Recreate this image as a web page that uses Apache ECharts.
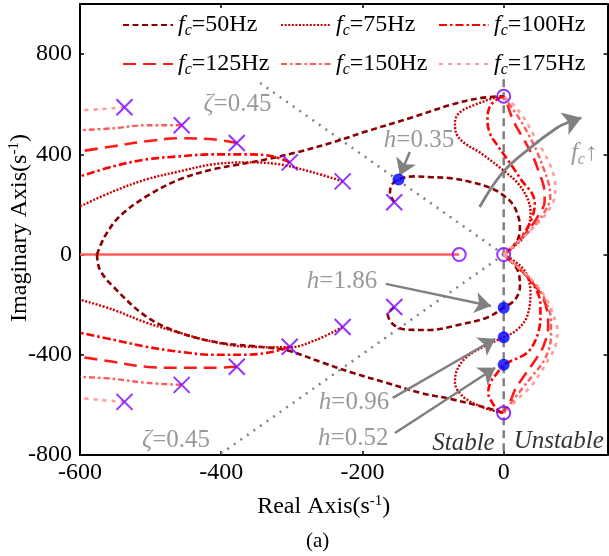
<!DOCTYPE html>
<html>
<head>
<meta charset="utf-8">
<script src="https://cdn.jsdelivr.net/npm/echarts@6/dist/echarts.min.js"></script>
<style>
html,body{margin:0;padding:0;background:#fff;}
#chart{width:609px;height:556px;}
</style>
</head>
<body>
<div id="chart"></div>
<script>
// ---- cutoff frequencies shown in the legend ----
const fcLabels = ['50Hz', '75Hz', '100Hz', '125Hz', '150Hz', '175Hz'];

// ---- open-loop poles (x) and zeros (o), s^-1 ----
const polesRe      = [-155, -228, -303, -378, -456, -537];
const polesImUpper = [209, 292, 368, 445, 516, 588];
const polesImLower = [-209, -289, -368, -448, -520, -588];
const zerosRe = [0, 0, -63, 0];
const zerosIm = [632, 0, 0, -632];

// ---- closed-loop points marked for selected h ----
const markedRe = [-149, 0, 0, 0];
const markedIm = [300, -212, -330, -440];
const markedH  = ['0.35', '1.86', '0.96', '0.52'];

// ---- root-locus branches, [Re, Im] ----
// fc = 50 Hz
const loc50OuterUp = [[-576,0],[-565,72],[-544,152],[-506,232],[-459,300],[-412,340],[-374,360],[-336,380],[-293,408],[-242,448],[-194,492],[-129,548],[-72,600],[-34,624],[0,632]];
const loc50OuterLo = [[-576,0],[-572,-60],[-553,-128],[-506,-248],[-459,-312],[-402,-352],[-346,-368],[-307,-382],[-260,-428],[-214,-472],[-166,-512],[-118,-552],[-76,-576],[-29,-608],[0,-632]];
const loc50InnerUp = [[-155,209],[-161,248],[-158,280],[-149,300],[-128,312],[-104,309],[-76,305],[-47,290],[-19,266],[0,236],[13,200],[21,148],[23,108],[21,68],[13,32],[0,0]];
const loc50InnerLo = [[-155,-209],[-164,-240],[-156,-280],[-137,-300],[-104,-301],[-66,-282],[-24,-252],[0,-212],[16,-180],[23,-128],[21,-72],[12,-32],[0,0]];
// fc = 75 Hz
const loc75LeftUp  = [[-228,292],[-270,328],[-317,360],[-364,368],[-412,360],[-459,332],[-506,300],[-553,252],[-600,192]];
const loc75LeftLo  = [[-228,-289],[-265,-340],[-303,-370],[-364,-368],[-412,-348],[-459,-312],[-506,-272],[-553,-220],[-600,-180]];
const loc75InnerUp = [[0,0],[14,30],[28,70],[36,120],[38,172],[33,228],[19,288],[0,335],[-33,406],[-57,448],[-68,490],[-69,528],[-62,568],[-37,602],[-12,626],[0,632]];
const loc75InnerLo = [[0,0],[16,-28],[31,-70],[38,-152],[33,-248],[19,-300],[0,-330],[-23,-360],[-52,-408],[-66,-460],[-69,-512],[-57,-568],[-33,-606],[-9,-628],[0,-632]];
// fc = 100 Hz
const loc100LeftUp  = [[-303,368],[-327,392],[-364,400],[-412,400],[-459,392],[-506,380],[-553,352],[-600,312]];
const loc100LeftLo  = [[-303,-368],[-327,-388],[-364,-400],[-412,-400],[-459,-388],[-506,-368],[-553,-340],[-600,-312]];
const loc100RightUp = [[0,0],[16,40],[30,90],[40,145],[44,200],[40,245],[27,290],[13,348],[0,400],[-9,436],[-19,480],[-23,532],[-22,572],[-14,610],[0,632]];
const loc100RightLo = [[0,0],[18,-45],[35,-95],[47,-145],[52,-200],[52,-250],[47,-328],[33,-392],[0,-440],[-9,-472],[-19,-512],[-22,-552],[-16,-592],[-8,-620],[0,-632]];
// fc = 125 Hz
const loc125LeftUp  = [[-378,445],[-412,460],[-459,464],[-506,452],[-553,432],[-600,412]];
const loc125LeftLo  = [[-378,-448],[-412,-452],[-459,-452],[-506,-448],[-553,-428],[-600,-408]];
const loc125RightUp = [[0,0],[18,45],[36,100],[50,160],[58,212],[57,268],[50,328],[42,388],[30,452],[14,532],[5,600],[0,632]];
const loc125RightLo = [[0,0],[20,-50],[40,-110],[55,-170],[62,-232],[63,-288],[56,-368],[45,-420],[28,-488],[16,-540],[9,-588],[2,-620],[0,-632]];
// fc = 150 Hz
const loc150LeftUp  = [[-456,516],[-506,516],[-553,504],[-600,496]];
const loc150LeftLo  = [[-456,-520],[-506,-512],[-553,-496],[-600,-488]];
const loc150RightUp = [[0,0],[20,50],[42,110],[58,170],[66,228],[64,280],[56,348],[47,412],[35,480],[21,548],[6,608],[0,632]];
const loc150RightLo = [[0,0],[22,-55],[45,-120],[60,-190],[67,-260],[67,-312],[65,-368],[56,-428],[42,-480],[28,-528],[16,-572],[5,-612],[0,-632]];
// fc = 175 Hz
const loc175LeftUp  = [[-537,588],[-572,580],[-600,576]];
const loc175LeftLo  = [[-537,-588],[-572,-580],[-600,-572]];
const loc175RightUp = [[0,0],[22,55],[45,115],[62,170],[72,228],[73,280],[67,348],[56,412],[42,480],[28,548],[13,600],[0,632]];
const loc175RightLo = [[0,0],[24,-60],[48,-125],[62,-185],[70,-240],[76,-300],[73,-368],[63,-420],[52,-472],[38,-528],[23,-568],[9,-608],[0,-632]];

// common real-axis segment
const realAxisBranch = [[-600,0],[-63,0]];

// damping-ratio guide lines (zeta = 0.45) and stability boundary
const zetaUpper = [[0,0],[-347,689]];
const zetaLower = [[0,0],[-403,-800]];
const boundary  = [[0,700],[0,-800]];

// ---- axis ranges and ticks ----
const xRange = [-600, 147];
const yRange = [-800, 1000];
const xTickStep = 200;
const yTickStep = 400;

const branchesByFc = [
  [loc50OuterUp, loc50OuterLo, loc50InnerUp, loc50InnerLo],
  [loc75LeftUp, loc75LeftLo, loc75InnerUp, loc75InnerLo],
  [loc100LeftUp, loc100LeftLo, loc100RightUp, loc100RightLo],
  [loc125LeftUp, loc125LeftLo, loc125RightUp, loc125RightLo],
  [loc150LeftUp, loc150LeftLo, loc150RightUp, loc150RightLo],
  [loc175LeftUp, loc175LeftLo, loc175RightUp, loc175RightLo]
];

const FONT = '"Liberation Serif","Times New Roman",serif';
const GRAY = '#808080';
const PURPLE = '#7a00ff';

const lineLooks = [
  { color: '#8b0000', type: [6, 3.5],        width: 2.6 },
  { color: '#cc0000', type: [2, 1.6],        width: 2.4 },
  { color: '#ff0000', type: [8, 3, 2.5, 3],  width: 2.6 },
  { color: '#ff1a1a', type: [13, 7],         width: 2.6 },
  { color: '#ff5a5a', type: [6, 3, 2.5, 3],  width: 2.4 },
  { color: '#ff9c9c', type: [4, 5],          width: 2.6 }
];

const series = [];

series.push({
  type: 'line', data: realAxisBranch, showSymbol: false, symbol: 'none', z: 2,
  lineStyle: { color: '#ff5c5c', width: 2.5 }, silent: true
});
series.push({
  type: 'line', data: zetaUpper, symbol: 'none', z: 1,
  lineStyle: { color: GRAY, width: 2.5, type: [2, 6] }, silent: true
});
series.push({
  type: 'line', data: zetaLower, symbol: 'none', z: 1,
  lineStyle: { color: GRAY, width: 2.5, type: [2, 6] }, silent: true
});
series.push({
  type: 'line', data: boundary, symbol: 'none', z: 1,
  lineStyle: { color: GRAY, width: 2.5, type: [8, 5] }, silent: true
});

branchesByFc.forEach((group, i) => {
  group.forEach(branch => {
    series.push({
      name: 'fc=' + fcLabels[i],
      type: 'line', data: branch, smooth: 0.35, symbol: 'none', z: 3,
      lineStyle: Object.assign({}, lineLooks[i])
    });
  });
});

// pole markers
const poleData = [];
polesRe.forEach((re, i) => { poleData.push([re, polesImUpper[i]]); poleData.push([re, polesImLower[i]]); });
series.push({
  type: 'scatter', data: poleData, z: 6,
  symbol: 'path://M0,0L10,10M10,0L0,10', symbolSize: 16,
  itemStyle: { color: 'rgba(0,0,0,0)', borderColor: PURPLE, borderWidth: 2 }
});
// zero markers
series.push({
  type: 'scatter', data: zerosRe.map((re, i) => [re, zerosIm[i]]), z: 6,
  symbol: 'circle', symbolSize: 13,
  itemStyle: { color: 'rgba(0,0,0,0)', borderColor: PURPLE, borderWidth: 2 }
});
// marked gain points
series.push({
  type: 'scatter', data: markedRe.map((re, i) => [re, markedIm[i]]), z: 7,
  symbol: 'circle', symbolSize: 12, itemStyle: { color: '#0000ff' }
});

// annotation arrows (start -> tip)
const arrowH035 = [[-133,409],[-147,316]];
const arrowH186 = [[-167,-117],[-18,-205]];
const arrowH096 = [[-157,-572],[-12,-336]];
const arrowH052 = [[-154,-712],[-12,-452]];
series.push({
  type: 'lines', coordinateSystem: 'cartesian2d', z: 5,
  symbol: ['none', 'arrow'], symbolSize: [13, 16],
  lineStyle: { color: GRAY, width: 2.5, opacity: 1 },
  data: [arrowH035, arrowH186, arrowH096, arrowH052].map(c => ({ coords: c }))
});
// fc increase arrow
const fcArrowBody = [[-34,190],[-1,329],[37,425],[75,505],[90,526]];
const fcArrowTip  = [[88,524],[110,546]];
series.push({
  type: 'line', data: fcArrowBody, smooth: 0.4, symbol: 'none', z: 5,
  lineStyle: { color: GRAY, width: 2.8 }
});
series.push({
  type: 'lines', coordinateSystem: 'cartesian2d', z: 5,
  symbol: ['none', 'arrow'], symbolSize: [14, 18],
  lineStyle: { color: GRAY, width: 2.8, opacity: 1 },
  data: [{ coords: fcArrowTip }]
});

// text annotations at data positions
const notes = [
  { value: [-120, 457],  text: '{hi|h}{hn|=' + markedH[0] + '}' },
  { value: [-229, -109], text: '{hi|h}{hn|=' + markedH[1] + '}' },
  { value: [-212, -592], text: '{hi|h}{hn|=' + markedH[2] + '}' },
  { value: [-213, -732], text: '{hi|h}{hn|=' + markedH[3] + '}' },
  { value: [-377, 601],  text: '{hi|ζ}{hn|=0.45}' },
  { value: [-464, -740], text: '{hi|ζ}{hn|=0.45}' },
  { value: [-57, -752],  text: '{si|Stable}' },
  { value: [78, -744],   text: '{si|Unstable}' },
  { value: [114, 405],   text: '{hi|f}{hs|c}{hn|↑}' }
];
series.push({
  type: 'scatter', data: notes, symbolSize: 0, z: 8, silent: true,
  label: {
    show: true, position: 'inside',
    formatter: p => p.data.text,
    rich: {
      hi: { fontFamily: FONT, fontSize: 25, fontStyle: 'italic', color: GRAY },
      hn: { fontFamily: FONT, fontSize: 25, color: GRAY },
      hs: { fontFamily: FONT, fontSize: 16, fontStyle: 'italic', color: GRAY, padding: [13, 0, 0, 0] },
      si: { fontFamily: FONT, fontSize: 25, fontStyle: 'italic', color: '#000' }
    }
  }
});

const legendCols = [122, 280, 438];
const legendRows = [13, 52];
const legends = fcLabels.map((f, i) => ({
  data: ['fc=' + f],
  left: legendCols[i % 3], top: legendRows[Math.floor(i / 3)],
  padding: 0, itemWidth: 50, itemHeight: 14, itemGap: 0,
  selectedMode: false,
  itemStyle: { opacity: 0 },
  formatter: name => '{f|f}{c|c}{t|' + name.slice(2) + '}',
  textStyle: {
    rich: {
      f: { fontFamily: FONT, fontSize: 24, fontStyle: 'italic', color: '#000' },
      c: { fontFamily: FONT, fontSize: 16, fontStyle: 'italic', color: '#000', padding: [12, 0, 0, 0] },
      t: { fontFamily: FONT, fontSize: 24, color: '#000' }
    }
  }
}));

const axisCommon = {
  type: 'value',
  axisLine: { show: true, onZero: false, lineStyle: { color: '#000', width: 2 } },
  axisTick: { show: true, inside: true, length: 4, lineStyle: { color: '#000', width: 1.5 } },
  splitLine: { show: false }
};

const nameRich = {
  n: { fontFamily: FONT, fontSize: 24, color: '#000' },
  sup: { fontFamily: FONT, fontSize: 15, color: '#000', padding: [0, 0, 11, 0] }
};

const option = {
  animation: false,
  backgroundColor: '#fff',
  grid: { left: 80, top: 4, width: 527.5, height: 451, containLabel: false, outerBoundsMode: 'none' },
  legend: legends,
  xAxis: [
    Object.assign({}, axisCommon, {
      min: xRange[0], max: xRange[1], interval: xTickStep, position: 'bottom',
      axisLabel: { fontFamily: FONT, fontSize: 24, color: '#000', margin: 6, showMaxLabel: false },
      name: '{n|Real Axis(s}{sup|-1}{n|)}', nameLocation: 'middle', nameGap: 39,
      nameTextStyle: { rich: nameRich, padding: [0, 40, 0, 0] }
    }),
    Object.assign({}, axisCommon, {
      min: xRange[0], max: xRange[1], interval: xTickStep, position: 'top',
      axisLabel: { show: false }
    })
  ],
  yAxis: [
    Object.assign({}, axisCommon, {
      min: yRange[0], max: yRange[1], interval: yTickStep, position: 'left',
      axisLabel: { fontFamily: FONT, fontSize: 24, color: '#000', margin: 8, showMaxLabel: false }
    }),
    Object.assign({}, axisCommon, {
      min: yRange[0], max: yRange[1], interval: yTickStep, position: 'right',
      axisLabel: { show: false }
    })
  ],
  graphic: [
    {
      type: 'text', x: 20, y: 228, rotation: Math.PI / 2,
      style: {
        text: '{n|Imaginary Axis(s}{sup|-1}{n|)}', rich: nameRich,
        align: 'center', verticalAlign: 'middle'
      }
    },
    {
      type: 'text', left: 306, top: 531,
      style: { text: '(a)', font: '21px ' + FONT, fill: '#000' }
    }
  ],
  series: series
};

const chart = echarts.init(document.getElementById('chart'), null, { renderer: 'canvas' });
chart.setOption(option);
</script>
</body>
</html>
